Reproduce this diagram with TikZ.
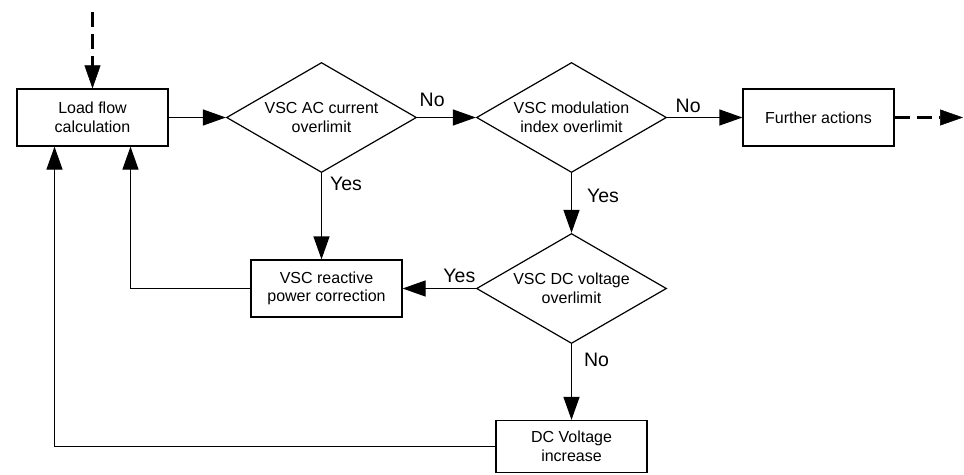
\documentclass[tikz,border=0pt]{standalone}
\usepackage{fontspec}
\setmainfont{Liberation Sans}
\usetikzlibrary{shapes.geometric, arrows.meta}

\begin{document}
\begin{tikzpicture}[node distance = {250pt},
	main/.style = {draw, line width=1.2pt, minimum width=151pt, minimum height=57pt, align=center, font=\fontsize{16}{18.5}\selectfont},
	test/.style = {draw, diamond, aspect=1.7, line width=1.2pt, inner sep=0pt, minimum width=190pt, minimum height=110pt, align=center, font=\fontsize{16}{19}\selectfont},
	lbl/.style = {inner sep=0pt, font=\fontsize{19.5}{22}\selectfont},
	arr/.style = {line width=1.2pt, -{Triangle[length=23pt, width=16pt]}},
	dsh/.style = {line width=3pt, dash pattern=on 15pt off 7pt, -{Triangle[length=23pt, width=16pt, line width=0.5pt]}}]
	\useasboundingbox (0,0) rectangle (964pt,-474pt);
	\node[main] (1) at (92.5pt,-117.5pt) {Load flow\\calculation};
	\node[test] (2) [right of=1, node distance=229pt] {VSC AC current\\overlimit};
	\node[test] (3) [right of=2] {VSC modulation\\index overlimit};
	\node[main] (4) [right of=3, node distance=247pt] {Further actions};
	\node[test] (5) [below of=3, node distance=171pt] {VSC DC voltage\\overlimit};
	\node[main] (6) [left of=5, node distance=245pt] {VSC reactive\\power correction};
	\node[main, minimum height=52pt] (7) [below of=5, node distance=158pt] {DC Voltage\\increase};
	\coordinate (in) at (92.5pt,-12pt);
	\coordinate (out) at (963pt,-117.5pt);
	\draw[dsh] (in) -- (1);
	\draw[arr] (1) -- (2);
	\draw[arr] (2) -- (3) node[pos=0, above right, lbl, xshift=2pt, yshift=10pt] {No};
	\draw[arr] (3) -- (4) node[pos=0, above right, lbl, xshift=8pt, yshift=4pt] {No};
	\draw[dsh] (4) -- (out);
	\draw[arr] (2) -- (2 |- 6.north) node[pos=0, below right, lbl, xshift=8pt, yshift=-3pt] {Yes};
	\draw[arr] (3) -- (5) node[pos=0, below right, lbl, xshift=15pt, yshift=-15pt] {Yes};
	\draw[arr] (5) -- (6) node[pos=0, above left, lbl, yshift=5pt] {Yes};
	\draw[arr] (5) -- (7) node[pos=0, below right, lbl, xshift=12pt, yshift=-8pt] {No};
	\draw[arr] (6.west) -| ([xshift=38pt]1.south);
	\draw[arr] (7.west) -| ([xshift=-38pt]1.south);
\end{tikzpicture}
\end{document}
